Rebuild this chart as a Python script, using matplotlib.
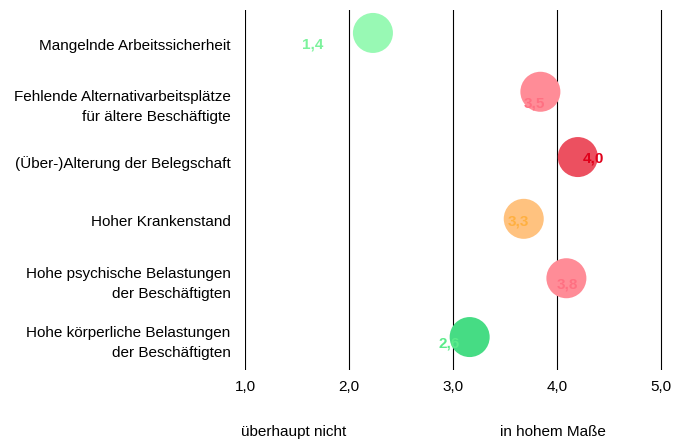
import matplotlib.pyplot as plt
from matplotlib import font_manager

names = {f.name for f in font_manager.fontManager.ttflist}
font = 'Liberation Sans Narrow' if 'Liberation Sans Narrow' in names else 'Liberation Sans'
plt.rcParams['font.family'] = [font, 'DejaVu Sans']

categories = ['Mangelnde Arbeitssicherheit',
              'Fehlende Alternativarbeitsplätze\nfür ältere Beschäftigte',
              '(Über-)Alterung der Belegschaft',
              'Hoher Krankenstand',
              'Hohe psychische Belastungen\nder Beschäftigten',
              'Hohe körperliche Belastungen\nder Beschäftigten']
bubble_x = [2.23, 3.84, 4.20, 3.68, 4.09, 3.16]
value_labels = ['1,4', '3,5', '4,0', '3,3', '3,8', '2,6']
tick_values = [1.0, 2.0, 3.0, 4.0, 5.0]
tick_labels = ['1,0', '2,0', '3,0', '4,0', '5,0']

bubble_colors = ['#98F9B4', '#FF8C97', '#EC5060', '#FFC27F', '#FF8C97', '#46DC84']
text_colors = ['#7CF29C', '#FF7082', '#E0001A', '#FFB040', '#FF7082', '#5BEB8A']
# label offsets relative to the bubble (pixels), bubble offsets relative to the row
label_dx = [-60, -6, 16, -5, 1, -21]
label_dy = [-12, -12, -1, -3, -6, -6]
bubble_dy = [-0.19, -0.19, -0.08, -0.03, -0.02, -0.02]

fig = plt.figure(figsize=(6.73, 4.41), dpi=100)
ax = fig.add_axes([245 / 673, 1 - 370 / 441, (673 - 245) / 673, 360 / 441])
ax.set_xlim(1.0, 5.115)
ax.set_ylim(5.54, -0.58)

for t in tick_values:
    ax.axvline(t, color='black', lw=0.8, zorder=1)

rows = list(range(len(categories)))
ys = [r + d for r, d in zip(rows, bubble_dy)]
ax.scatter(bubble_x, ys, s=830, c=bubble_colors, edgecolors='none', zorder=2)

for x, y, lab, col, dx, dy in zip(bubble_x, ys, value_labels, text_colors, label_dx, label_dy):
    ax.annotate(lab, (x, y), xytext=(dx * 0.72, dy * 0.72), textcoords='offset points',
                ha='center', va='center', color=col, fontsize=11, fontweight='bold', zorder=3)

ax.set_yticks(rows)
ax.set_yticklabels(categories, fontsize=11, linespacing=1.55)
ax.set_xticks(tick_values)
ax.set_xticklabels(tick_labels, fontsize=11)
ax.tick_params(length=0, pad=10.5)
ax.tick_params(axis='x', pad=7)
for s in ax.spines.values():
    s.set_visible(False)

fig.text(294 / 673, 1 - 432 / 441, 'überhaupt nicht', ha='center', va='center', fontsize=11)
fig.text(553 / 673, 1 - 432 / 441, 'in hohem Maße', ha='center', va='center', fontsize=11)

fig.savefig('out.png', dpi=100)
